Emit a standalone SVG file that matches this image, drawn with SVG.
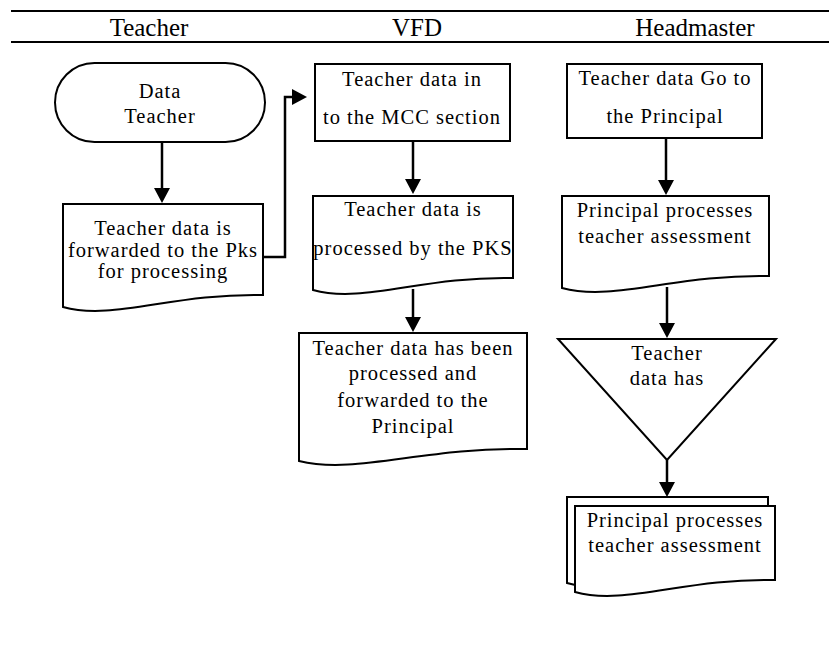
<svg xmlns="http://www.w3.org/2000/svg" width="829" height="662" viewBox="0 0 829 662">
<defs>
<style>
.s{fill:#fff;stroke:#000;stroke-width:2}
.t{font-family:"Liberation Serif",serif;font-size:20.5px;letter-spacing:1px;fill:#000;text-anchor:middle}
.h{font-family:"Liberation Serif",serif;font-size:25px;fill:#000;text-anchor:middle}
.c{fill:none;stroke:#000;stroke-width:2.5}
</style>
<marker id="ah" markerUnits="userSpaceOnUse" markerWidth="16" markerHeight="16" refX="11" refY="8" orient="auto">
<path d="M0,0 L15,8 L0,16 z" fill="#000"/>
</marker>
</defs>
<rect width="829" height="662" fill="#fff"/>
<g id="header">
<line x1="11" y1="11" x2="829" y2="11" stroke="#000" stroke-width="2.2"/>
<line x1="11" y1="42" x2="829" y2="42" stroke="#000" stroke-width="2.2"/>
<text class="h" x="149" y="36">Teacher</text>
<text class="h" x="417" y="36">VFD</text>
<text class="h" x="695" y="36">Headmaster</text>
</g>
<g id="connectors">
<path class="c" d="M162,142 V199" marker-end="url(#ah)"/>
<path class="c" d="M263,257 H285 V97 H303" marker-end="url(#ah)"/>
<path class="c" d="M413,141 V190" marker-end="url(#ah)"/>
<path class="c" d="M413,289 V328" marker-end="url(#ah)"/>
<path class="c" d="M666,138 V191" marker-end="url(#ah)"/>
<path class="c" d="M667,287 V334" marker-end="url(#ah)"/>
<path class="c" d="M667,460 V493" marker-end="url(#ah)"/>
</g>
<g id="n1">
<rect class="s" x="55" y="63" width="210" height="79" rx="39.5"/>
<text class="t" x="160" y="98">Data</text>
<text class="t" x="160" y="123">Teacher</text>
</g>
<g id="n2">
<path class="s" d="M63,204 H263 V295 C173,293 113,321 63,307 Z"/>
<text class="t" x="163" y="235">Teacher data is</text>
<text class="t" x="163" y="257">forwarded to the Pks</text>
<text class="t" x="163" y="278">for processing</text>
</g>
<g id="n3">
<rect class="s" x="315" y="64" width="195" height="77"/>
<text class="t" x="412" y="86">Teacher data in</text>
<text class="t" x="412" y="124">to the MCC section</text>
</g>
<g id="n4">
<path class="s" d="M313,196 H513 V278 C423,276 363,304 313,290 Z"/>
<text class="t" x="413" y="216">Teacher data is</text>
<text class="t" x="413" y="255">processed by the PKS</text>
</g>
<g id="n5">
<path class="s" d="M299,333 H527 V449 C424,447 356,475 299,461 Z"/>
<text class="t" x="413" y="355">Teacher data has been</text>
<text class="t" x="413" y="380">processed and</text>
<text class="t" x="413" y="407">forwarded to the</text>
<text class="t" x="413" y="433">Principal</text>
</g>
<g id="n6">
<rect class="s" x="567" y="64" width="195" height="74"/>
<text class="t" x="665" y="85">Teacher data Go to</text>
<text class="t" x="665" y="123">the Principal</text>
</g>
<g id="n7">
<path class="s" d="M562,196 H769 V276 C676,274 614,302 562,288 Z"/>
<text class="t" x="665" y="217">Principal processes</text>
<text class="t" x="665" y="243">teacher assessment</text>
</g>
<g id="n8">
<polygon class="s" points="558,339 776,339 667,460"/>
<text class="t" x="667" y="360">Teacher</text>
<text class="t" x="667" y="385">data has</text>
</g>
<g id="n9">
<path class="s" d="M567,497 H768 V571 C678,569 617,597 567,583 Z"/>
<path class="s" d="M575,506 H775 V580 C685,578 625,606 575,592 Z"/>
<text class="t" x="675" y="527">Principal processes</text>
<text class="t" x="675" y="552">teacher assessment</text>
</g>
</svg>
